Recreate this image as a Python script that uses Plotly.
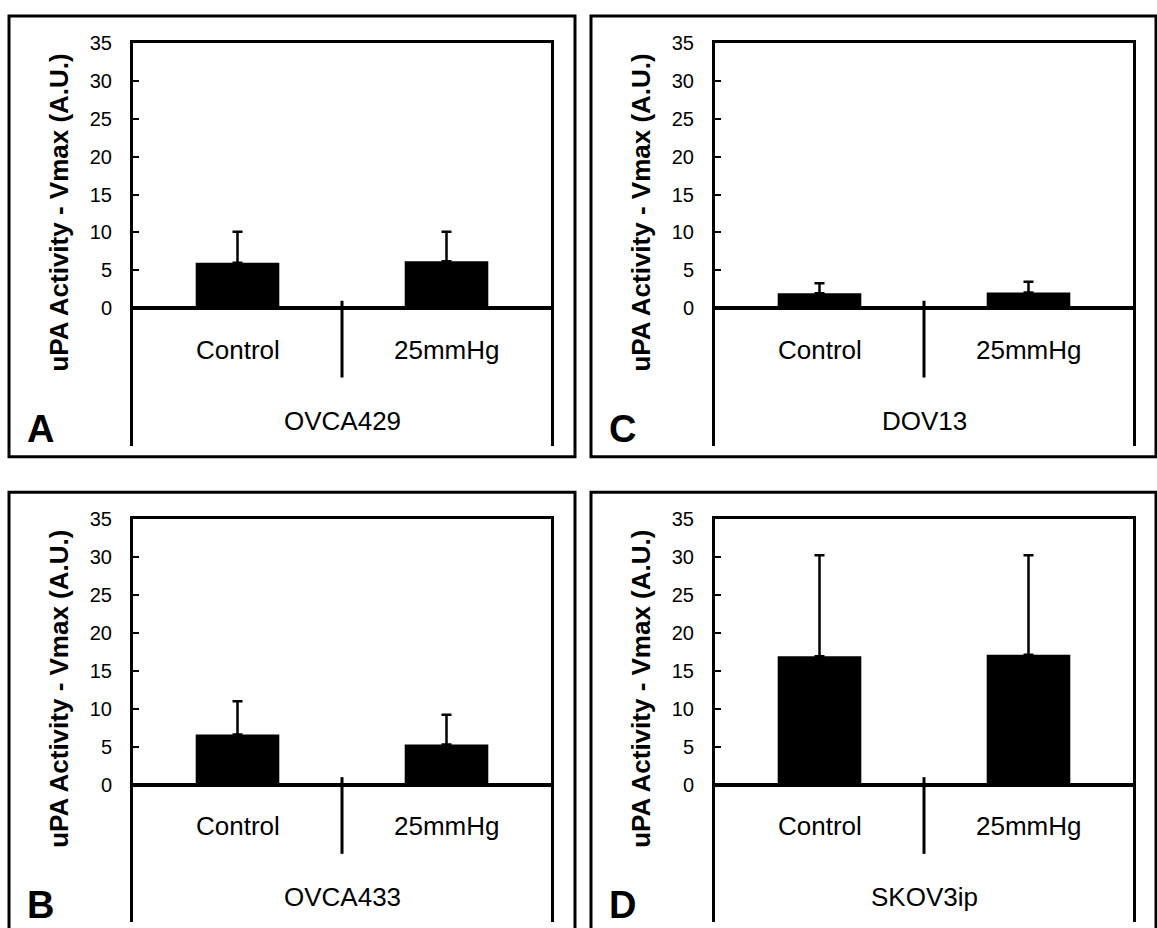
import plotly.graph_objects as go

# Conditions on the lower category row
conditions = ["Control", "25mmHg"]

# Cell lines, one per panel
cell_lines = ["OVCA429", "OVCA433", "DOV13", "SKOV3ip"]
panel_letters = ["A", "B", "C", "D"]

# uPA activity (Vmax, A.U.): mean and upper SD per condition
ovca429_mean = [6.0, 6.2]
ovca429_sd = [4.1, 3.9]
ovca433_mean = [6.6, 5.3]
ovca433_sd = [4.4, 3.9]
dov13_mean = [2.0, 2.1]
dov13_sd = [1.3, 1.4]
skov3ip_mean = [16.9, 17.1]
skov3ip_sd = [13.3, 13.1]

y_ticks = [0, 5, 10, 15, 20, 25, 30, 35]
y_title = "uPA Activity - Vmax (A.U.)"

means = [ovca429_mean, ovca433_mean, dov13_mean, skov3ip_mean]
sds = [ovca429_sd, ovca433_sd, dov13_sd, skov3ip_sd]

W, H = 1157, 928
FONT = "Liberation Sans, Arial, sans-serif"

def px_x(p):
    return p / W

def px_y(p):
    return 1 - p / H

# panel layout in pixels: (plot left, plot right, plot top, plot bottom, box left, box right, box top, box bottom)
panels = [
    dict(pl=133, pr=551, pt=32, pb=440, bl=9, br=575, bt=5, bb=451),      # A
    dict(pl=133, pr=551, pt=514, pb=922, bl=9, br=575, bt=487, bb=940),   # B
    dict(pl=715, pr=1133, pt=32, pb=440, bl=591, br=1156, bt=5, bb=451),  # C
    dict(pl=715, pr=1133, pt=514, pb=922, bl=591, br=1156, bt=487, bb=940),  # D
]

# value range so that 0 sits 269 px below 35 and the category rows fill the rest
px_per_unit = 269 / 35
y_min = -(408 - 269) / px_per_unit
x_pos = [0, 1]

fig = go.Figure()
shapes = []
annotations = []

for i, p in enumerate(panels):
    n = "" if i == 0 else str(i + 1)
    xa, ya = "x" + n, "y" + n
    fig.add_trace(go.Bar(
        x=x_pos, y=means[i], width=0.4,
        marker=dict(color="black", line=dict(width=0)),
        error_y=dict(type="data", symmetric=False, array=sds[i],
                     arrayminus=[0] * len(sds[i]),
                     color="black", thickness=2.5, width=5),
        xaxis=xa, yaxis=ya, showlegend=False,
    ))
    fig.layout["xaxis" + n] = dict(
        domain=[px_x(p["pl"]), px_x(p["pr"])], anchor=ya, range=[-0.5, 1.5],
        side="top", showline=True, linecolor="black", linewidth=3,
        showticklabels=False, ticks="", showgrid=False, zeroline=False,
        fixedrange=True,
    )
    fig.layout["yaxis" + n] = dict(
        domain=[px_y(p["pb"]), px_y(p["pt"])], anchor=xa, range=[y_min, 35],
        tickvals=y_ticks, ticks="inside", ticklen=6, tickwidth=2, tickcolor="black",
        showline=True, mirror=True, linecolor="black", linewidth=3,
        zeroline=True, zerolinecolor="black", zerolinewidth=3.5,
        showgrid=False, ticklabelstandoff=14,
        tickfont=dict(family=FONT, size=20, color="black"),
        fixedrange=True,
    )
    # divider between the two condition labels
    shapes.append(dict(type="line", xref=xa, yref=ya, x0=0.5, x1=0.5, y0=1.0, y1=-9.1,
                       line=dict(color="black", width=3)))
    # panel frame
    shapes.append(dict(type="rect", xref="paper", yref="paper",
                       x0=px_x(p["bl"]), x1=px_x(p["br"]),
                       y0=px_y(p["bb"]), y1=px_y(p["bt"]),
                       line=dict(color="black", width=3), fillcolor="rgba(0,0,0,0)"))
    for j, c in enumerate(conditions):
        annotations.append(dict(xref=xa, yref=ya, x=x_pos[j], y=-5.5, text=c,
                                showarrow=False, xanchor="center", yanchor="middle",
                                font=dict(family=FONT, size=26, color="black")))
    annotations.append(dict(xref=xa, yref=ya, x=0.5, y=-14.8, text=cell_lines[i],
                            showarrow=False, xanchor="center", yanchor="middle",
                            font=dict(family=FONT, size=26, color="black")))
    annotations.append(dict(xref="paper", yref="paper",
                            x=px_x(p["bl"] + 31), y=px_y(p["pt"] + 391), text="<b>%s</b>" % panel_letters[i],
                            showarrow=False, xanchor="center", yanchor="middle",
                            font=dict(family=FONT, size=38, color="black")))
    annotations.append(dict(xref="paper", yref="paper",
                            x=px_x(p["bl"] + 50), y=px_y(p["pt"] + 172), text="<b>%s</b>" % y_title,
                            textangle=-90, showarrow=False, xanchor="center", yanchor="middle",
                            font=dict(family=FONT, size=26, color="black")))

fig.update_layout(
    width=W, height=H, margin=dict(l=0, r=0, t=0, b=0),
    paper_bgcolor="white", plot_bgcolor="white",
    shapes=shapes, annotations=annotations,
)

fig.write_html("out.html")
